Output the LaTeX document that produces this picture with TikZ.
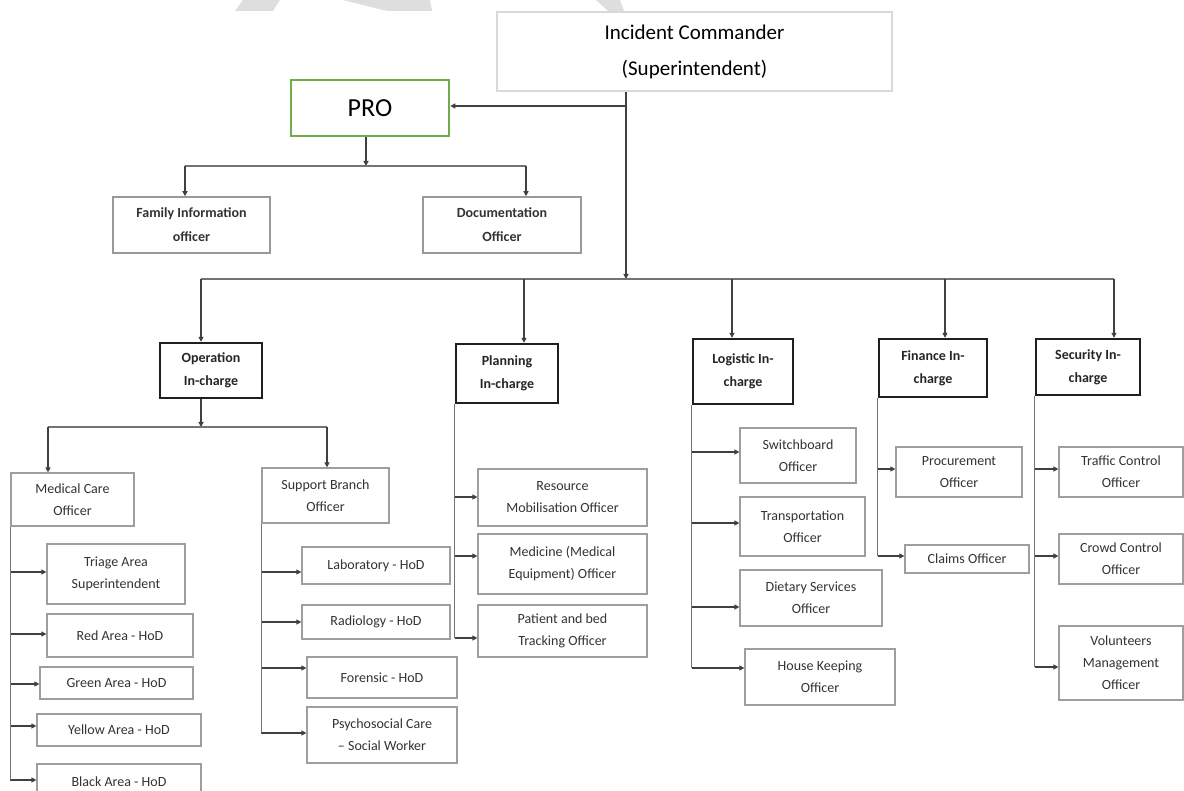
\documentclass[tikz,border=0pt]{standalone}
\usepackage{fontspec}
\setmainfont{Carlito}
\usetikzlibrary{arrows.meta,calc}
\definecolor{progreen}{HTML}{70AD47}
\begin{document}
\begin{tikzpicture}[x=1pt,y=-1pt,
  wh/.style 2 args={minimum width=#1pt,minimum height=#2pt},
  bx/.style={draw=black!38, line width=1.2pt, align=center, inner sep=0pt,
    font=\fontsize{14}{22}\selectfont, text=black!80},
  chief/.style={draw=black!88, line width=2.4pt, align=center, inner sep=0pt,
    font=\fontsize{14}{23}\selectfont\bfseries, text=black!85},
  pbox/.style={draw=black!40, line width=1.5pt, align=center, inner sep=0pt,
    font=\fontsize{14}{24}\selectfont\bfseries, text=black!80},
  arr/.style={draw=black!75, line width=1.2pt, -{Triangle[length=5pt,width=5pt]}},
  ln/.style={draw=black!55, line width=1.2pt},
  wm/.style={fill=black!13, draw=none}
]
\clip (0,0) rectangle (1184,791);
\fill[white] (0,0) rectangle (1184,791);
% faint watermark fragments
\fill[wm] (235,11) -- (273,11) -- (280,0) -- (243,0) -- cycle;
\fill[wm] (343,0) -- (430,0) -- (432,11) -- (387,11) -- cycle;
\fill[wm] (596,0) -- (620,0) -- (624,11) -- (608,11) -- cycle;

% top level
\node[draw=black!15, line width=2pt, wh={395}{79}, align=center, inner sep=0pt,
  font=\fontsize{21}{36}\selectfont] (ic) at (694.5,51.5) {Incident Commander\\(Superintendent)};
\node[draw=progreen, line width=2.6pt, wh={158}{56}, inner sep=0pt,
  font=\fontsize{26}{30}\selectfont] (pro) at (370,108) {PRO};
\node[pbox, wh={157}{56}] (fam) at (191.5,225) {Family Information\\officer};
\node[pbox, wh={158}{56}] (doc) at (502,225) {Documentation\\Officer};

% in-charge row
\node[chief, wh={102}{55}] (op) at (211,370.5) {Operation\\In-charge};
\node[chief, wh={102}{59}] (plan) at (507,373.5) {Planning\\In-charge};
\node[chief, wh={100}{65}] (log) at (743,371.5) {Logistic In-\\charge};
\node[chief, wh={108}{58}] (fin) at (933,368) {Finance In-\\charge};
\node[chief, wh={104}{56}] (sec) at (1088,367) {Security In-\\charge};

% operation branch
\node[bx, wh={123}{53}] (med) at (72.5,499.5) {Medical Care\\Officer};
\node[bx, wh={127}{55}] (sup) at (325.5,495.5) {Support Branch\\Officer};
\node[bx, wh={138}{60}] (triage) at (116,574) {Triage Area\\Superintendent};
\node[bx, wh={146}{43}] (red) at (120,635.5) {Red Area - HoD};
\node[bx, wh={153}{32}] (green) at (116.5,683) {Green Area - HoD};
\node[bx, wh={164}{32}] (yellow) at (119,730) {Yellow Area - HoD};
\node[bx, wh={164}{36}] (black) at (119,782) {Black Area - HoD};
\node[bx, wh={148}{37}] (lab) at (376,565.5) {Laboratory - HoD};
\node[bx, wh={148}{34}] (rad) at (376,622) {Radiology - HoD};
\node[bx, wh={150}{41}] (for) at (382,677.5) {Forensic - HoD};
\node[bx, wh={150}{56}] (psy) at (382,735) {Psychosocial Care\\– Social Worker};

% planning branch
\node[bx, wh={169}{57}] (res) at (562.5,497.5) {Resource\\Mobilisation Officer};
\node[bx, wh={169}{60}] (medi) at (562.5,564) {Medicine (Medical\\Equipment) Officer};
\node[bx, wh={169}{52}] (pat) at (562.5,631) {Patient and bed\\Tracking Officer};

% logistic branch
\node[bx, wh={116}{55}] (sw) at (798,455.5) {Switchboard\\Officer};
\node[bx, wh={125}{59}] (tra) at (802.5,526.5) {Transportation\\Officer};
\node[bx, wh={142}{56}] (die) at (811,598) {Dietary Services\\Officer};
\node[bx, wh={150}{56}] (hk) at (820,677) {House Keeping\\Officer};

% finance branch
\node[bx, wh={126}{50}] (proc) at (959,472) {Procurement\\Officer};
\node[bx, wh={124}{28}] (cla) at (967,559) {Claims Officer};

% security branch
\node[bx, wh={124}{50}] (tc) at (1121,472) {Traffic Control\\Officer};
\node[bx, wh={124}{50}] (cc) at (1121,559) {Crowd Control\\Officer};
\node[bx, wh={124}{74}] (vol) at (1121,663) {Volunteers\\Management\\Officer};

% connectors: top
\coordinate (busC) at (626,279);
\coordinate (proJ) at (626,106);
\draw[arr] (ic.south -| busC) -- (busC);
\draw[arr] (proJ) -- (pro.east |- proJ);
\coordinate (pj) at (366,166);
\coordinate (pl) at (185,166);
\coordinate (pr) at (526,166);
\draw[arr] (pro.south -| pj) -- (pj);
\draw[ln] (pl) -- (pr);
\draw[arr] (pl) -- (fam.north -| pl);
\draw[arr] (pr) -- (doc.north -| pr);

% main bus
\coordinate (bO) at (201,279);
\coordinate (bP) at (524,279);
\coordinate (bL) at (732,279);
\coordinate (bF) at (945,279);
\coordinate (bS) at (1114,279);
\draw[ln] (bO) -- (bS);
\draw[arr, line width=1.6pt] (bO) -- (op.north -| bO);
\draw[arr, line width=1.6pt] (bP) -- (plan.north -| bP);
\draw[arr, line width=1.6pt] (bL) -- (log.north -| bL);
\draw[arr, line width=1.6pt] (bF) -- (fin.north -| bF);
\draw[arr, line width=1.6pt] (bS) -- (sec.north -| bS);

% operation split
\coordinate (oj) at (201,427);
\coordinate (ol) at (48,427);
\coordinate (or) at (327,427);
\draw[arr] (op.south -| oj) -- (oj);
\draw[ln] (ol) -- (or);
\draw[arr] (ol) -- (med.north -| ol);
\draw[arr] (or) -- (sup.north -| or);

% side arrows
\foreach \p/\n/\d in {med/triage/2, med/red/1.5, med/green/-1, med/yellow/4, med/black/2,
  sup/lab/-6.5, sup/rad/0, sup/for/9.5, sup/psy/2,
  plan/res/0.5, plan/medi/8, plan/pat/-7,
  log/sw/3.5, log/tra/3.5, log/die/-9, log/hk/9,
  fin/proc/3, fin/cla/3,
  sec/tc/3, sec/cc/3, sec/vol/-4} {
  \coordinate (\n-a) at ([yshift=\d pt]\n.west);
  \draw[arr] (\p.south west |- \n-a) -- (\n-a);
}
\draw[ln] (med.south west) -- (med.south west |- black-a);
\draw[ln] (sup.south west) -- (sup.south west |- psy-a);
\draw[ln] (plan.south west) -- (plan.south west |- pat-a);
\draw[ln] (log.south west) -- (log.south west |- hk-a);
\draw[ln] (fin.south west) -- (fin.south west |- cla-a);
\draw[ln] (sec.south west) -- (sec.south west |- vol-a);
\end{tikzpicture}
\end{document}
